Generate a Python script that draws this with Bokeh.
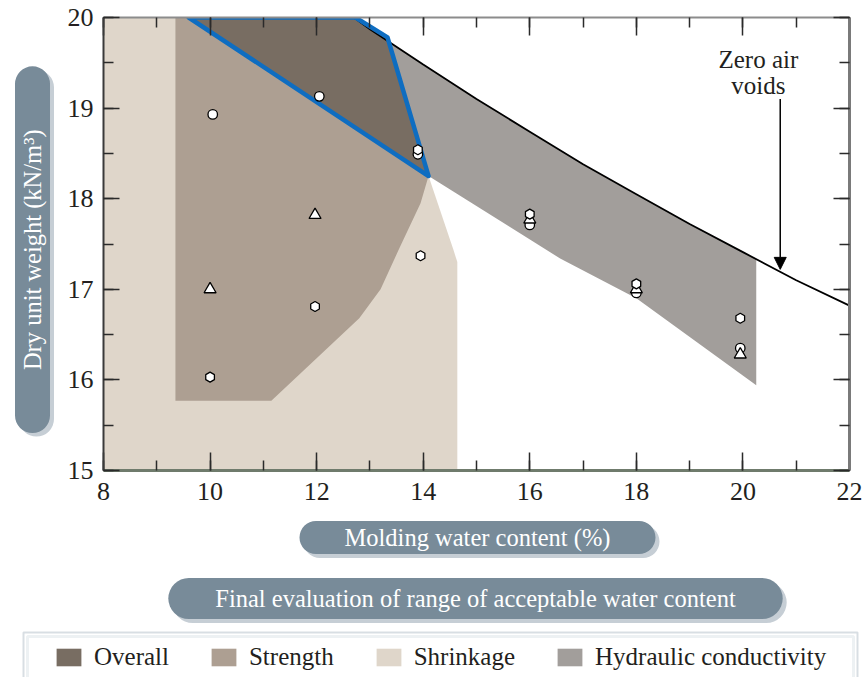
from bokeh.plotting import figure
from bokeh.layouts import column, row
from bokeh.models import (Range1d, LinearAxis, SingleIntervalTicker, Label, Legend,
                          LegendItem, Arrow, NormalHead, BoxAnnotation, CustomJSTickFormatter)
from bokeh.embed import file_html
from bokeh.resources import INLINE

# ---------------- data ----------------
shrinkage_x = [8, 8, 9.35, 14.1, 14.57, 14.64, 14.64]
shrinkage_y = [15, 20, 20, 18.25, 17.43, 17.3, 15]

strength_x = [9.35, 9.35, 11.15, 12.8, 13.2, 13.55, 13.95, 14.1, 13.33, 12.73]
strength_y = [20, 15.77, 15.77, 16.68, 17.0, 17.45, 17.95, 18.25, 19.78, 20]

hydraulic_x = [9.6, 12.7, 13, 14, 15, 16, 17, 18, 19, 20, 20.25, 20.25, 18, 16.57, 14.1]
hydraulic_y = [20, 20, 19.87, 19.48, 19.10, 18.74, 18.38, 18.05, 17.72, 17.41, 17.33, 15.94, 16.9, 17.34, 18.25]

overall_x = [9.6, 12.73, 13.33, 14.1]
overall_y = [20, 20, 19.78, 18.25]

zav_x = [12.7, 13, 14, 15, 16, 17, 18, 19, 20, 21, 22]
zav_y = [20.0, 19.87, 19.48, 19.10, 18.74, 18.38, 18.05, 17.72, 17.41, 17.10, 16.82]

circle_x = [10.05, 12.05, 13.9, 16.0, 18.0, 19.95]
circle_y = [18.93, 19.13, 18.49, 17.71, 16.96, 16.35]
triangle_x = [10.0, 11.97, 16.0, 18.0, 19.95]
triangle_y = [17.0, 17.82, 17.77, 17.0, 16.28]
pentagon_x = [10.0, 11.97, 13.95, 13.9, 16.0, 18.0, 19.95]
pentagon_y = [16.03, 16.81, 17.37, 18.54, 17.83, 17.06, 16.68]

zav_text = "Zero air\nvoids"
zav_text_pos = (20.29, 19.68)
zav_arrow = (20.7, 19.1, 20.7, 17.22)

legend_labels = ["Overall", "Strength", "Shrinkage", "Hydraulic conductivity"]
xlabel_text = "Molding water content (%)"
caption_text = "Final evaluation of range of acceptable water content"
ylabel_text = "Dry unit weight (kN/m\u00b3)"

# ---------------- style ----------------
FONT = "Liberation Serif"
C_SHRINK = "#dfd6ca"
C_STRENGTH = "#ad9f92"
C_OVERALL = "#786d62"
C_HYD = "#a29e9b"
C_BLUE = "#0e6dc1"
C_PILL = "#788b99"
C_SHADOW = "#c6ced5"
C_TEXT = "#231f20"
TXT = "25px"
PILL_TXT = "24.5px"

MAIN_W, MAIN_H = 803, 515
LEFT_W = 60
BOT_H = 677 - MAIN_H

# ---------------- main chart ----------------
p = figure(width=MAIN_W, height=MAIN_H, x_range=Range1d(8, 22), y_range=Range1d(15, 20),
           output_backend="svg", toolbar_location=None,
           min_border_left=43, min_border_right=14, min_border_top=17, min_border_bottom=45,
           background_fill_color="white", border_fill_color="white")
p.outline_line_color = None
p.grid.visible = False


def style_axis(ax, line_color, line_width, labels, tick_in):
    ax.major_tick_in = tick_in
    ax.major_tick_out = 0
    ax.minor_tick_in = 10
    ax.minor_tick_out = 0
    ax.major_tick_line_color = "#2a2a2a"
    ax.minor_tick_line_color = "#2a2a2a"
    ax.major_tick_line_width = 1.5
    ax.minor_tick_line_width = 1.5
    ax.axis_line_color = line_color
    ax.axis_line_width = line_width
    if labels:
        ax.major_label_text_font = FONT
        ax.major_label_text_font_size = "26px"
        ax.major_label_text_color = C_TEXT
    else:
        ax.formatter = CustomJSTickFormatter(code="return ''")
        ax.major_label_standoff = 0


p.xaxis.ticker = SingleIntervalTicker(interval=2, num_minor_ticks=2)
p.yaxis.ticker = SingleIntervalTicker(interval=1, num_minor_ticks=2)
style_axis(p.xaxis[0], "#6f7b6c", 3, True, 18)
style_axis(p.yaxis[0], "#3a3a3a", 2, True, 16)
p.xaxis[0].major_label_standoff = 12
p.yaxis[0].major_label_standoff = 10

top_ax = LinearAxis(ticker=SingleIntervalTicker(interval=2, num_minor_ticks=2))
style_axis(top_ax, "#8c8c8c", 2, False, 18)
p.add_layout(top_ax, "above")
right_ax = LinearAxis(ticker=SingleIntervalTicker(interval=1, num_minor_ticks=2))
style_axis(right_ax, "#7a7a7a", 3, False, 16)
p.add_layout(right_ax, "right")

p.patch(shrinkage_x, shrinkage_y, fill_color=C_SHRINK, line_color=None)
p.patch(strength_x, strength_y, fill_color=C_STRENGTH, line_color=None)
p.patch(hydraulic_x, hydraulic_y, fill_color=C_HYD, line_color=None)
p.patch(overall_x, overall_y, fill_color=C_OVERALL, line_color=None)

p.line(zav_x, zav_y, line_color="black", line_width=1.8)
p.patch(overall_x, overall_y, fill_alpha=0, line_color=C_BLUE, line_width=4.5,
        line_join="round")

p.scatter(circle_x, circle_y, marker="circle", size=9.5, fill_color="white",
          line_color="black", line_width=1.3)
p.scatter(triangle_x, triangle_y, marker="triangle", size=12, fill_color="white",
          line_color="black", line_width=1.3)
p.scatter(pentagon_x, pentagon_y, marker="hex", size=10, angle=0.5236, fill_color="white",
          line_color="black", line_width=1.3)

p.add_layout(Label(x=zav_text_pos[0], y=zav_text_pos[1], text=zav_text, text_align="center",
                   text_baseline="top", text_font=FONT, text_font_size=TXT,
                   text_color=C_TEXT, text_line_height=0.95))
p.add_layout(Arrow(x_start=zav_arrow[0], y_start=zav_arrow[1], x_end=zav_arrow[2],
                   y_end=zav_arrow[3], line_color="black", line_width=1.5,
                   end=NormalHead(size=12, fill_color="black", line_color="black")))


def blank_fig(w, h):
    f = figure(width=w, height=h, x_range=Range1d(0, w), y_range=Range1d(0, h),
               output_backend="svg", toolbar_location=None, min_border=0,
               x_axis_location=None, y_axis_location=None,
               background_fill_color="white", border_fill_color="white")
    f.outline_line_color = None
    f.grid.visible = False
    return f


def pill(f, text, x, y, pad, radius, angle=0, dx=4, dy=-4):
    # pad = (along the text, across the text)
    for ox, oy, bg, fg in ((dx, dy, C_SHADOW, C_SHADOW), (0, 0, C_PILL, "white")):
        f.add_layout(Label(x=x + ox, y=y + oy, text=text, angle=angle, angle_units="deg",
                           text_align="center", text_baseline="middle",
                           text_font=FONT, text_font_size=PILL_TXT, text_color=fg,
                           background_fill_color=bg, border_radius=radius,
                           padding=pad))


# ---------------- left strip: y label pill ----------------
pl = blank_fig(LEFT_W, MAIN_H)
pill(pl, ylabel_text, 32, MAIN_H - 264, (63, 4), 18, angle=90)

# ---------------- bottom strip: x label, caption, legend ----------------
pb = blank_fig(863, BOT_H)
pill(pb, xlabel_text, 477, 677 - 537, (45, 3), 17)
pill(pb, caption_text, 475, 677 - 598, (47, 7), 21)

pb.add_layout(BoxAnnotation(left=23, right=857, bottom=-30, top=677 - 632, fill_alpha=0,
                            line_color="#7d93a3", line_width=2))
pb.add_layout(BoxAnnotation(left=27, right=853, bottom=-30, top=677 - 636, fill_alpha=0,
                            line_color="#c3cfd8", line_width=3))

# off-canvas helper glyphs that only provide the legend swatches
sw = [pb.patch([-50, -40, -40], [-50, -50, -40], fill_color=c, line_color=None)
      for c in (C_OVERALL, C_STRENGTH, C_SHRINK, C_HYD)]
legend = Legend(items=[LegendItem(label=lab, renderers=[r]) for lab, r in zip(legend_labels, sw)],
                orientation="horizontal", location=(53, 6),
                glyph_width=31, glyph_height=22, label_standoff=10, spacing=39,
                padding=0, label_text_font=FONT, label_text_font_size=TXT,
                label_text_color=C_TEXT, border_line_color=None,
                background_fill_alpha=0)
pb.add_layout(legend)

layout = column(row(pl, p), pb)
open("out.html", "w").write(file_html(layout, INLINE))
